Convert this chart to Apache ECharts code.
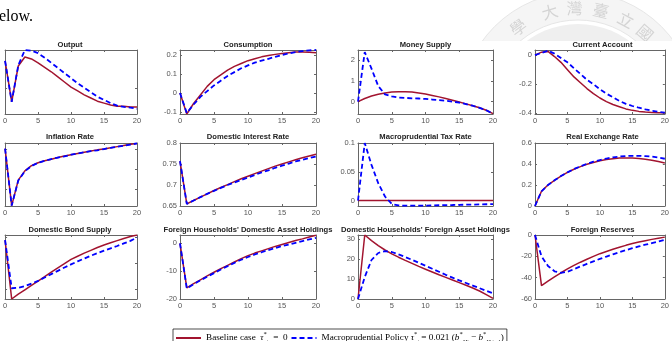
<!DOCTYPE html>
<html>
<head>
<meta charset="utf-8">
<script src="https://cdn.jsdelivr.net/npm/echarts@6.0.0/dist/echarts.min.js"></script>
<style>
html, body { margin: 0; padding: 0; background: #fff; }
#chart { width: 672px; height: 341px; }
</style>
</head>
<body>
<div id="chart"></div>
<script>
// impulse responses, quarters 0..20
const periods = [0, 1, 2, 3, 4, 5, 6, 7, 8, 9, 10, 11, 12, 13, 14, 15, 16, 17, 18, 19, 20]
const xTicks = [0, 5, 10, 15, 20]

const titles = [
  'Output', 'Consumption', 'Money Supply', 'Current Account',
  'Inflation Rate', 'Domestic Interest Rate', 'Macroprudential Tax Rate', 'Real Exchange Rate',
  'Domestic Bond Supply', "Foreign Households' Domestic Asset Holdings",
  "Domestic Households' Foreign Asset Holdings", 'Foreign Reserves'
]

const outputBase = [0.43, -0.21, 0.35, 0.49, 0.46, 0.40, 0.33, 0.26, 0.18, 0.10, 0.02, -0.04, -0.10, -0.15, -0.20, -0.23, -0.26, -0.28, -0.28, -0.29, -0.29]
const outputMacro = [0.43, -0.21, 0.36, 0.60, 0.59, 0.55, 0.48, 0.40, 0.32, 0.24, 0.16, 0.08, 0.01, -0.06, -0.13, -0.18, -0.23, -0.27, -0.29, -0.30, -0.32]
const consBase = [0, -0.11, -0.055, -0.01, 0.035, 0.07, 0.095, 0.12, 0.14, 0.155, 0.17, 0.18, 0.19, 0.197, 0.203, 0.208, 0.212, 0.215, 0.215, 0.214, 0.212]
const consMacro = [0, -0.105, -0.06, -0.02, 0.01, 0.04, 0.065, 0.09, 0.11, 0.13, 0.145, 0.16, 0.17, 0.18, 0.19, 0.2, 0.208, 0.215, 0.22, 0.224, 0.226]
const moneyBase = [0, 0.15, 0.27, 0.36, 0.42, 0.46, 0.48, 0.48, 0.46, 0.42, 0.37, 0.3, 0.23, 0.15, 0.07, -0.02, -0.11, -0.2, -0.3, -0.42, -0.58]
const moneyMacro = [0, 2.4, 1.6, 0.75, 0.35, 0.25, 0.2, 0.18, 0.16, 0.15, 0.13, 0.1, 0.07, 0.04, 0, -0.05, -0.12, -0.2, -0.3, -0.42, -0.58]
const caBase = [0, 0.02, 0.025, -0.01, -0.05, -0.1, -0.15, -0.19, -0.23, -0.265, -0.295, -0.32, -0.34, -0.355, -0.37, -0.38, -0.387, -0.392, -0.395, -0.396, -0.397]
const caMacro = [0, 0.015, 0.03, 0.01, -0.02, -0.05, -0.09, -0.13, -0.17, -0.2, -0.235, -0.265, -0.29, -0.315, -0.335, -0.35, -0.362, -0.373, -0.382, -0.39, -0.395]

const inflBase = [1.01, -0.40, 0.23, 0.46, 0.59, 0.66, 0.71, 0.75, 0.79, 0.83, 0.86, 0.89, 0.92, 0.95, 0.98, 1.00, 1.03, 1.06, 1.09, 1.12, 1.14]
const inflMacro = [1.01, -0.40, 0.22, 0.45, 0.58, 0.66, 0.71, 0.75, 0.79, 0.82, 0.86, 0.89, 0.92, 0.95, 0.97, 1.00, 1.03, 1.06, 1.08, 1.11, 1.14]
const rateBase = [0.757, 0.655, 0.663, 0.671, 0.679, 0.687, 0.694, 0.701, 0.708, 0.715, 0.721, 0.727, 0.733, 0.739, 0.745, 0.75, 0.755, 0.76, 0.765, 0.769, 0.773]
const rateMacro = [0.757, 0.655, 0.663, 0.671, 0.679, 0.686, 0.693, 0.7, 0.706, 0.712, 0.718, 0.724, 0.73, 0.735, 0.741, 0.746, 0.751, 0.756, 0.76, 0.764, 0.768]
const taxBase = [0, 0, 0, 0, 0, 0, 0, 0, 0, 0, 0, 0, 0, 0, 0, 0, 0, 0, 0, 0, 0]
const taxMacro = [0, 0.1, 0.062, 0.03, 0.007, -0.006, -0.0085, -0.009, -0.009, -0.009, -0.0088, -0.0085, -0.0082, -0.008, -0.0078, -0.0075, -0.0072, -0.007, -0.0068, -0.0065, -0.0062]
const rerBase = [0, 0.14, 0.2, 0.245, 0.285, 0.32, 0.35, 0.375, 0.397, 0.415, 0.43, 0.442, 0.451, 0.456, 0.458, 0.456, 0.452, 0.445, 0.436, 0.424, 0.41]
const rerMacro = [0, 0.14, 0.2, 0.245, 0.285, 0.32, 0.352, 0.378, 0.402, 0.422, 0.438, 0.452, 0.463, 0.471, 0.476, 0.478, 0.478, 0.475, 0.47, 0.462, 0.45]

const bondBase = [1.9, -0.4, -0.21, -0.04, 0.13, 0.30, 0.47, 0.65, 0.82, 0.98, 1.15, 1.27, 1.39, 1.50, 1.61, 1.71, 1.80, 1.88, 1.96, 2.04, 2.10]
const bondMacro = [1.9, 0.02, 0.04, 0.1, 0.2, 0.31, 0.44, 0.57, 0.70, 0.83, 0.95, 1.07, 1.18, 1.29, 1.39, 1.49, 1.58, 1.67, 1.77, 1.87, 2.0]
const fhBase = [0, -16, -14.5, -13.1, -11.7, -10.4, -9.1, -7.9, -6.7, -5.5, -4.4, -3.5, -2.7, -1.9, -1.1, -0.4, 0.3, 1.0, 1.6, 2.3, 2.9]
const fhMacro = [0, -16.2, -14.7, -13.3, -12.0, -10.7, -9.4, -8.2, -7.0, -5.9, -4.9, -4.0, -3.2, -2.4, -1.7, -1.0, -0.4, 0.2, 0.8, 1.4, 2.0]
const dhBase = [0, 32, 29.2, 26.7, 24.5, 22.6, 20.9, 19.3, 17.8, 16.3, 14.9, 13.5, 12.1, 10.8, 9.5, 8.2, 6.9, 5.5, 4.0, 2.2, 0.3]
const dhMacro = [0, 11, 19.5, 23, 23.9, 23.5, 22.3, 21, 19.6, 18.1, 16.6, 15.1, 13.6, 12.1, 10.7, 9.3, 8, 6.7, 5.4, 4.1, 2.8]
const resBase = [0, -47.5, -43.3, -39.3, -35.4, -31.7, -28.5, -25.5, -22.7, -20.0, -17.5, -15.4, -13.4, -11.5, -9.7, -8.0, -6.6, -5.3, -4.1, -3.0, -2.0]
const resMacro = [0, -20, -29, -34, -35.5, -34.5, -32, -29.5, -27, -24.7, -22.4, -20.2, -18.1, -16.1, -14.2, -12.4, -10.7, -9.1, -7.6, -6.2, -4.5]

// y tick values per panel
const outputTicks = [0]
const consTicks = [-0.1, 0, 0.1, 0.2]
const moneyTicks = [0, 1, 2]
const caTicks = [-0.4, -0.2, 0]
const inflTicks = [0, 0.5, 1]
const rateTicks = [0.65, 0.7, 0.75, 0.8]
const taxTicks = [0, 0.05, 0.1]
const rerTicks = [0, 0.2, 0.4, 0.6]
const bondTicks = [0, 1, 2]
const fhTicks = [-20, -10, 0]
const dhTicks = [0, 10, 20, 30]
const resTicks = [-60, -40, -20, 0]

const baseName = 'Baseline case'
const macroName = 'Macroprudential Policy'

const panels = [
  { base: outputBase, macro: outputMacro, min: -0.4, max: 0.6, ticks: outputTicks, labels: false },
  { base: consBase, macro: consMacro, min: -0.11, max: 0.226, ticks: consTicks, labels: true },
  { base: moneyBase, macro: moneyMacro, min: -0.6, max: 2.5, ticks: moneyTicks, labels: true },
  { base: caBase, macro: caMacro, min: -0.405, max: 0.035, ticks: caTicks, labels: true },
  { base: inflBase, macro: inflMacro, min: -0.41, max: 1.15, ticks: inflTicks, labels: false },
  { base: rateBase, macro: rateMacro, min: 0.65, max: 0.8, ticks: rateTicks, labels: true },
  { base: taxBase, macro: taxMacro, min: -0.0095, max: 0.1, ticks: taxTicks, labels: true },
  { base: rerBase, macro: rerMacro, min: 0, max: 0.6, ticks: rerTicks, labels: true },
  { base: bondBase, macro: bondMacro, min: -0.4, max: 2.1, ticks: bondTicks, labels: false },
  { base: fhBase, macro: fhMacro, min: -20, max: 3, ticks: fhTicks, labels: true },
  { base: dhBase, macro: dhMacro, min: 0, max: 32, ticks: dhTicks, labels: true },
  { base: resBase, macro: resMacro, min: -60, max: 0, ticks: resTicks, labels: true }
]

const colLeft = [3, 180, 358, 535]
const colWidth = [134, 136, 135, 135]
const rowTop = [50, 143, 235]
const rowHeight = [64, 63, 64]
const titleTop = [40.5, 133, 225.5]

const axisColor = '#666'
const labelColor = '#555'
const sans = '"Liberation Sans", Arial, sans-serif'
const serif = '"Liberation Serif", "Times New Roman", serif'

const grids = []
const xAxes = []
const yAxes = []
const series = []
const titleList = []

panels.forEach((p, i) => {
  const r = Math.floor(i / 4)
  const c = i % 4
  grids.push({
    left: colLeft[c], top: rowTop[r], width: colWidth[c], height: rowHeight[r],
    show: true, backgroundColor: '#fff', borderWidth: 0
  })
  titleList.push({
    text: titles[i],
    left: colLeft[c] + colWidth[c] / 2,
    top: titleTop[r],
    textAlign: 'center',
    padding: 0,
    textStyle: { fontFamily: sans, fontSize: 7.6, fontWeight: 'bold', color: '#222' }
  })
  const axisLine = { show: true, onZero: false, lineStyle: { color: axisColor, width: 1 } }
  const tick = { inside: true, length: 2, lineStyle: { color: axisColor } }
  // bottom + top x axes
  xAxes.push({
    gridIndex: i, type: 'value', min: 0, max: 20, interval: 5, position: 'bottom',
    axisLine: axisLine, splitLine: { show: false }, axisTick: tick,
    axisLabel: { show: true, fontFamily: sans, fontSize: 7.5, color: labelColor, margin: 3, customValues: xTicks }
  })
  xAxes.push({
    gridIndex: i, type: 'value', min: 0, max: 20, interval: 5, position: 'top',
    axisLine: axisLine, splitLine: { show: false }, axisTick: tick,
    axisLabel: { show: false }
  })
  // left + right y axes
  yAxes.push({
    gridIndex: i, type: 'value', min: p.min, max: p.max, position: 'left',
    axisLine: axisLine, splitLine: { show: false },
    axisTick: Object.assign({ customValues: p.ticks }, tick),
    axisLabel: { show: p.labels, fontFamily: sans, fontSize: 7.5, color: labelColor, margin: 3, customValues: p.ticks }
  })
  yAxes.push({
    gridIndex: i, type: 'value', min: p.min, max: p.max, position: 'right',
    axisLine: axisLine, splitLine: { show: false },
    axisTick: Object.assign({ customValues: p.ticks }, tick),
    axisLabel: { show: false }
  })
  series.push({
    name: baseName, type: 'line', xAxisIndex: 2 * i, yAxisIndex: 2 * i,
    data: periods.map((t, k) => [t, p.base[k]]),
    symbol: 'none', silent: true, animation: false,
    lineStyle: { color: '#A2142F', width: 1.5 }, itemStyle: { color: '#A2142F' }
  })
  series.push({
    name: macroName, type: 'line', xAxisIndex: 2 * i, yAxisIndex: 2 * i,
    data: periods.map((t, k) => [t, p.macro[k]]),
    symbol: 'none', silent: true, animation: false,
    lineStyle: { color: '#0000FF', width: 1.8, type: [5, 3] }, itemStyle: { color: '#0000FF' }
  })
})

const rich = {
  n: { fontFamily: serif, fontSize: 9.2, color: '#000', lineHeight: 14 },
  i: { fontFamily: serif, fontSize: 9.2, fontStyle: 'italic', color: '#000', lineHeight: 14 },
  sup: { fontFamily: serif, fontSize: 6.5, color: '#000', verticalAlign: 'top', lineHeight: 8 },
  sub: { fontFamily: serif, fontSize: 6, fontStyle: 'italic', color: '#000', verticalAlign: 'bottom', lineHeight: 8 }
}

// faint university seal watermark peeking above the figure, top right
const sealChars = ['學', '大', '灣', '臺', '立', '國']
const sealAngles = [-126, -106, -92, -77, -62, -49]
const sealCx = 578, sealCy = 110, sealR = 102
const seal = [
  { type: 'ring', z: -5, shape: { cx: sealCx, cy: sealCy, r: 118, r0: 90 }, style: { fill: '#f5f5f5', stroke: '#e6e6e6', lineWidth: 1 } },
  { type: 'circle', z: -5, shape: { cx: sealCx, cy: sealCy, r: 86 }, style: { fill: '#efefef' } }
].concat(sealChars.map((ch, k) => {
  const a = sealAngles[k] * Math.PI / 180
  return {
    type: 'text', z: -4,
    x: sealCx + sealR * Math.cos(a), y: sealCy + sealR * Math.sin(a),
    rotation: -(sealAngles[k] + 90) * Math.PI / 180,
    style: { text: ch, font: '16px "Noto Sans CJK TC"', fill: '#d4d4d4', align: 'center', verticalAlign: 'middle' }
  }
})).concat([
  // the figure itself is an opaque white image covering the rest of the seal
  { type: 'rect', z: -3, shape: { x: 0, y: 41, width: 672, height: 300 }, style: { fill: '#fff' } }
])

const option = {
  backgroundColor: '#fff',
  animation: false,
  title: titleList,
  grid: grids,
  xAxis: xAxes,
  yAxis: yAxes,
  series: series,
  legend: {
    left: 173, top: 329,
    data: [baseName, macroName],
    itemWidth: 25, itemHeight: 10, itemGap: 3,
    padding: [2, 3, 2, 2],
    borderColor: '#000', borderWidth: 0.7, backgroundColor: '#fff',
    selectedMode: false,
    itemStyle: { opacity: 0 },
    textStyle: { rich: rich, fontFamily: serif, fontSize: 9.2 },
    formatter: name => name === baseName
      ? '{n|Baseline case  }{i|τ}{sup|*}{sub|t}{n|  =  0}'
      : '{n|Macroprudential Policy }{i|τ}{sup|*}{sub|t}{n| = 0.021 (}{i|b}{sup|*}{sub|Ht}{n| − }{i|b}{sup|*}{sub|H,t−1}{n|)}'
  },
  graphic: seal.concat([
    { type: 'text', x: -9, y: 8.5, style: { text: 'below.', font: '16px "Liberation Serif"', fill: '#000', verticalAlign: 'top' } }
  ])
}

const chart = echarts.init(document.getElementById('chart'))
chart.setOption(option)
</script>
</body>
</html>
